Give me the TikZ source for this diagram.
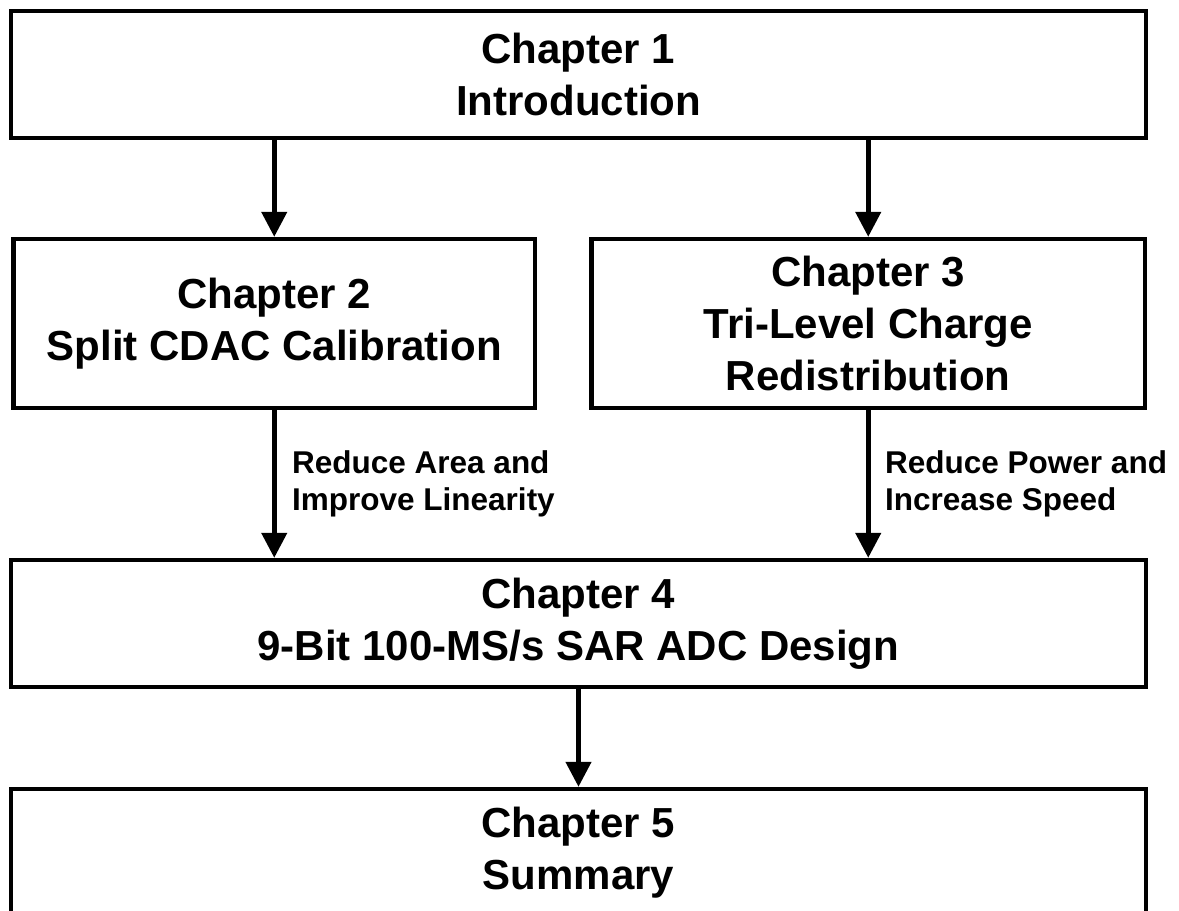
\documentclass[tikz,border=0pt]{standalone}
\usepackage{fontspec}
\setmainfont{Liberation Sans}
\usetikzlibrary{arrows.meta}
\begin{document}
\begin{tikzpicture}[x=1pt,y=-1pt,
  chapbox/.style={draw, rectangle, line width=4.4pt, inner sep=0pt, align=center,
    font=\fontsize{42}{52}\selectfont\bfseries},
  conn/.style={line width=4.5pt, -{Triangle[length=25pt,width=25pt]}},
  lbl/.style={inner sep=0pt, anchor=north west, align=left,
    font=\fontsize{31.5}{37}\selectfont\bfseries}]
\useasboundingbox (0,0) rectangle (1179,911);
\node[chapbox, minimum width=1135pt, minimum height=127pt] (c1) at (578.5,74.5) {Chapter 1\\Introduction};
\node[chapbox, minimum width=521.5pt, minimum height=169pt] (c2) at (274.25,323.5) {Chapter 2\\Split CDAC Calibration};
\node[chapbox, minimum width=553.5pt, minimum height=169pt] (c3) at (868.25,323.5) {Chapter 3\\Tri-Level Charge\\Redistribution};
\node[chapbox, minimum width=1135pt, minimum height=127pt] (c4) at (578.5,623.5) {Chapter 4\\9-Bit 100-MS/s SAR ADC Design};
\node[chapbox, minimum width=1135pt, minimum height=127pt] (c5) at (578.5,852.5) {Chapter 5\\Summary};
\draw[conn] (c2.north |- c1.south) -- (c2.north);
\draw[conn] (c3.north |- c1.south) -- (c3.north);
\draw[conn] (c2.south) -- (c2.south |- c4.north);
\draw[conn] (c3.south) -- (c3.south |- c4.north);
\draw[conn] (c4.south) -- (c5.north);
\node[lbl] (l2) at (292,450) {Reduce Area and\\Improve Linearity};
\node[lbl] (l3) at (885,450) {Reduce Power and\\Increase Speed};
\end{tikzpicture}
\end{document}
